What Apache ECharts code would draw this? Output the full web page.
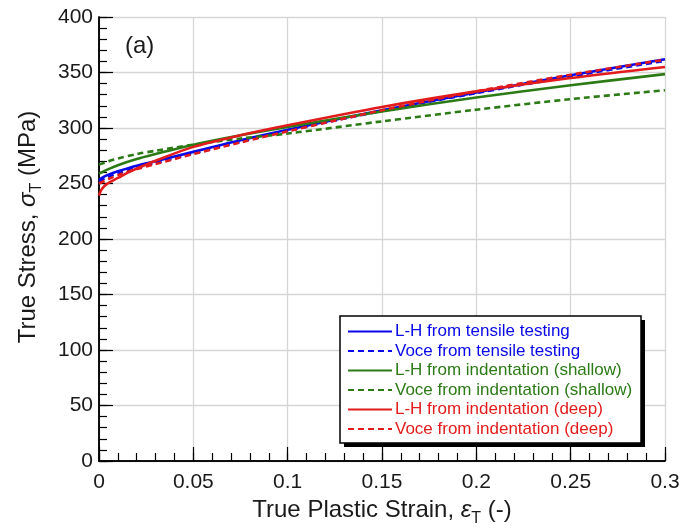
<!DOCTYPE html>
<html><head><meta charset="utf-8">
<script src="https://cdn.jsdelivr.net/npm/echarts@6/dist/echarts.min.js"></script>
<style>html,body{margin:0;padding:0;background:#fff}#c{width:695px;height:532px}</style>
</head><body><div id="c"></div>
<script>
// strain values (x) and stress values (MPa) for each curve
var lhTensileX = [0, 0.002, 0.005, 0.01, 0.02, 0.03, 0.05, 0.075, 0.1, 0.15, 0.2, 0.25, 0.3];
var lhTensileY = [253, 255.5, 258, 261, 266, 270, 278.5, 289, 298.5, 316, 332, 347.5, 362];
var voceTensileX = [0, 0.005, 0.01, 0.02, 0.03, 0.05, 0.075, 0.1, 0.15, 0.2, 0.25, 0.3];
var voceTensileY = [252, 256, 259, 264, 268.5, 277, 287.5, 297.5, 315.5, 331.5, 346.5, 360.5];
var lhShallowX = [0, 0.005, 0.01, 0.02, 0.03, 0.05, 0.075, 0.1, 0.15, 0.2, 0.25, 0.3];
var lhShallowY = [259, 263, 266.5, 272, 276.5, 285, 293.5, 301, 315, 327.5, 338.5, 348.5];
var voceShallowX = [0, 0.005, 0.01, 0.02, 0.03, 0.05, 0.075, 0.1, 0.15, 0.2, 0.25, 0.3];
var voceShallowY = [267, 270, 272.5, 276.5, 279.5, 285, 290.5, 295, 306, 316.5, 326, 334];
var lhDeepX = [0, 0.001, 0.003, 0.006, 0.01, 0.015, 0.02, 0.03, 0.05, 0.075, 0.1, 0.15, 0.2, 0.25, 0.3];
var lhDeepY = [239, 243.5, 248, 251.5, 255, 259.5, 263.5, 270.5, 283, 293.5, 302.5, 319, 333, 345, 355];
var voceDeepX = [0, 0.005, 0.01, 0.02, 0.03, 0.05, 0.075, 0.1, 0.15, 0.2, 0.25, 0.3];
var voceDeepY = [250, 254, 257.5, 263, 267.5, 276.5, 287, 297, 316, 333, 348, 361.5];
var seriesNames = ['L-H from tensile testing', 'Voce from tensile testing',
  'L-H from indentation (shallow)', 'Voce from indentation (shallow)',
  'L-H from indentation (deep)', 'Voce from indentation (deep)'];
var xTicks = ['0', '0.05', '0.1', '0.15', '0.2', '0.25', '0.3'];

var BLUE = '#0808e8', GREEN = '#2c7a16', RED = '#e21c1c';
var colors = [BLUE, BLUE, GREEN, GREEN, RED, RED];
var dashed = [false, true, false, true, false, true];
var xs = [lhTensileX, voceTensileX, lhShallowX, voceShallowX, lhDeepX, voceDeepX];
var ys = [lhTensileY, voceTensileY, lhShallowY, voceShallowY, lhDeepY, voceDeepY];

function pairs(x, y) { return x.map(function (v, i) { return [v, y[i]]; }); }

var FONT = 'Liberation Sans, Arial, sans-serif';
var INK = '#1a1a1a';
var series = seriesNames.map(function (n, i) {
  return {
    name: n, type: 'line', data: pairs(xs[i], ys[i]), smooth: 0.3,
    xAxisIndex: 0, yAxisIndex: 0,
    symbol: 'none', color: colors[i],
    lineStyle: { width: 2.6, color: colors[i], type: dashed[i] ? [6, 4] : 'solid' },
    z: 3
  };
});

var axLine = { show: true, lineStyle: { color: '#000', width: 1.5 } };
var grayGrid = { show: true, lineStyle: { color: '#d6d6d6', width: 1.3 } };
var rich = {
  a: { fontSize: 24, fontFamily: FONT, color: INK },
  e: { fontSize: 24, fontFamily: FONT, fontStyle: 'italic', color: INK },
  s: { fontSize: 16, fontFamily: FONT, color: INK, padding: [18, 0, 0, 0] }
};

// main axes carry line, labels and grid; helper axes (shifted inward) carry the inward ticks
function xMain(pos) {
  return {
    type: 'value', position: pos, min: 0, max: 0.3, interval: 0.05, gridIndex: 0,
    axisLine: axLine, axisTick: { show: false },
    splitLine: pos === 'bottom' ? grayGrid : { show: false },
    axisLabel: pos === 'bottom' ? {
      color: INK, fontSize: 21, fontFamily: FONT, margin: 11,
      formatter: function (v) { return xTicks[Math.round(v / 0.05)]; }
    } : { show: false }
  };
}
function xTick(pos, interval, len) {
  return {
    type: 'value', position: pos, offset: -len, min: 0, max: 0.3, interval: interval, gridIndex: 0,
    axisLine: { show: false }, splitLine: { show: false }, axisLabel: { show: false },
    axisTick: { show: true, inside: false, length: len, lineStyle: { color: '#000', width: 1.2 } }
  };
}
function yMain(pos) {
  return {
    type: 'value', position: pos, min: 0, max: 400, interval: 50, gridIndex: 0,
    axisLine: axLine, axisTick: { show: false },
    splitLine: pos === 'left' ? grayGrid : { show: false },
    axisLabel: pos === 'left' ? { color: INK, fontSize: 21, fontFamily: FONT, margin: 6 } : { show: false }
  };
}
function yTick(pos, interval, len) {
  return {
    type: 'value', position: pos, offset: -len, min: 0, max: 400, interval: interval, gridIndex: 0,
    axisLine: { show: false }, splitLine: { show: false }, axisLabel: { show: false },
    axisTick: { show: true, inside: false, length: len, lineStyle: { color: '#000', width: 1.2 } }
  };
}

var xAxes = [xMain('bottom'), xMain('top'), xTick('bottom', 0.05, 7), xTick('bottom', 0.01, 4),
  xTick('top', 0.05, 7), xTick('top', 0.01, 4)];
xAxes[0].name = '{a|True Plastic Strain, }{e|ε}{s|T}{a| (-)}';
xAxes[0].nameLocation = 'middle';
xAxes[0].nameGap = 32;
xAxes[0].nameTextStyle = { rich: rich };

var yAxes = [yMain('left'), yMain('right'), yTick('left', 50, 7), yTick('left', 10, 4),
  yTick('right', 50, 7), yTick('right', 10, 4)];
yAxes[0].name = '{a|True Stress, }{e|σ}{s|T}{a| (MPa)}';
yAxes[0].nameLocation = 'middle';
yAxes[0].nameGap = 54;
yAxes[0].nameRotate = 90;
yAxes[0].nameTextStyle = { rich: rich, padding: [0, 0, 0, 24] };

var chart = echarts.init(document.getElementById('c'));
chart.setOption({
  animation: false,
  backgroundColor: '#fff',
  grid: { left: 99, right: 30, top: 17, bottom: 70 },
  xAxis: xAxes,
  yAxis: yAxes,
  legend: {
    orient: 'vertical', left: 347, top: 322, z: 20,
    itemWidth: 44, itemHeight: 10, itemGap: 0.5,
    padding: 0,
    backgroundColor: 'transparent', borderWidth: 0,
    itemStyle: { opacity: 0 },
    data: seriesNames.map(function (n, i) {
      return { name: n, textStyle: { color: colors[i], fontSize: 17, lineHeight: 19,
        fontFamily: FONT, padding: [0, 0, 0, -2] } };
    })
  },
  graphic: [
    { type: 'rect', z: 15, shape: { x: 344, y: 320, width: 301, height: 127 },
      style: { fill: '#000' } },
    { type: 'rect', z: 16, shape: { x: 340, y: 316, width: 301, height: 127 },
      style: { fill: '#fff', stroke: '#000', lineWidth: 1.5 } },
    { type: 'text', left: 125, top: 34, z: 16,
      style: { text: '(a)', fontSize: 24, fontFamily: FONT, fill: INK } }
  ],
  series: series
});
</script></body></html>
